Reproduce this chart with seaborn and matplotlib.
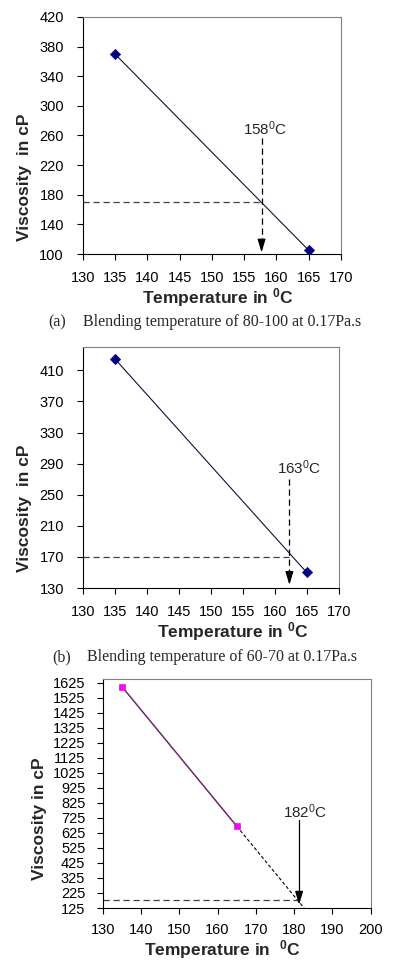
import numpy as np
import seaborn as sns
import matplotlib.pyplot as plt

# measured viscosity (cP) at two temperatures for each binder
temps = [135, 165]
visc_a = [370, 105]
visc_b = [425, 150]
visc_c = [1600, 670]

# read-off blending temperatures at the target viscosity
target_visc = [170, 170, 175]
blend_temp = [157.7, 162.3, 181.3]
blend_labels = ["158$^{0}$C", "163$^{0}$C", "182$^{0}$C"]

captions = [("(a)", "Blending temperature of 80-100 at 0.17Pa.s"),
            ("(b)", "Blending temperature of 60-70 at 0.17Pa.s")]

sns.set_style("ticks")
plt.rcParams['font.family'] = ['Liberation Sans', 'DejaVu Sans']
plt.rcParams['mathtext.default'] = 'regular'

W, H = 394, 966
fig = plt.figure(figsize=(W / 100, H / 100), dpi=100)


def make_ax(left, top, right, bottom):
    return fig.add_axes([left / W, 1 - bottom / H, (right - left) / W, (bottom - top) / H])


def style_ax(ax, fs, xpad, ypad):
    for s in ['top', 'right']:
        ax.spines[s].set_color('#808080')
        ax.spines[s].set_linewidth(0.8)
    for s in ['left', 'bottom']:
        ax.spines[s].set_color('black')
        ax.spines[s].set_linewidth(0.8)
    ax.tick_params(direction='out', length=4, width=0.8, labelsize=fs, colors='black')
    ax.tick_params(axis='x', pad=xpad)
    ax.tick_params(axis='y', pad=ypad)


def arrow_down(ax, x, top, tip, head, dashed=True):
    ax.plot([x, x], [top, tip + head], color='black', lw=0.9,
            ls=(0, (5, 3)) if dashed else '-')
    ax.annotate("", xy=(x, tip), xytext=(x, tip + head),
                arrowprops=dict(arrowstyle='-|>,head_length=1.0,head_width=0.3',
                                color='black', lw=0.9,
                                mutation_scale=8, shrinkA=0, shrinkB=0))


def labels(ax, xl, yl, xpos, ypos):
    ax.set_xlabel(xl, fontsize=12.5, fontweight='bold')
    ax.set_ylabel(yl, fontsize=12.5, fontweight='bold')
    ax.xaxis.set_label_coords(*xpos)
    ax.yaxis.set_label_coords(*ypos)


# ---- panel (a)
ax1 = make_ax(82.7, 17, 341, 254)
sns.lineplot(x=temps, y=visc_a, ax=ax1, color='#101040', lw=0.8)
sns.scatterplot(x=temps, y=visc_a, ax=ax1, marker='D', color='#000080', s=28,
                edgecolor='#000080', zorder=3)
ax1.set_xlim(130, 170)
ax1.set_ylim(100, 420)
ax1.set_xticks(np.arange(130, 171, 5))
ax1.set_yticks(np.arange(100, 421, 40))
ax1.plot([130, blend_temp[0]], [target_visc[0]] * 2, color='#404040', lw=0.9, ls=(0, (5, 3)))
arrow_down(ax1, blend_temp[0], 256, 102, 14)
ax1.text(158.2, 269, blend_labels[0], ha='center', va='center', fontsize=11)
labels(ax1, "Temperature in $^{0}$C", "Viscosity  in cP", (0.522, -0.136), (-0.196, 0.323))
style_ax(ax1, 10.5, 8.5, 9.5)

# ---- panel (b)
ax2 = make_ax(82.7, 347, 338.7, 588)
sns.lineplot(x=temps, y=visc_b, ax=ax2, color='#101040', lw=0.8)
sns.scatterplot(x=temps, y=visc_b, ax=ax2, marker='D', color='#000080', s=28,
                edgecolor='#000080', zorder=3)
ax2.set_xlim(130, 170)
ax2.set_ylim(130, 440)
ax2.set_xticks(np.arange(130, 171, 5))
ax2.set_yticks(np.arange(130, 411, 40))
ax2.plot([130, blend_temp[1]], [target_visc[1]] * 2, color='#404040', lw=0.9, ls=(0, (5, 3)))
arrow_down(ax2, blend_temp[1], 270, 134, 15)
ax2.text(163.8, 285, blend_labels[1], ha='center', va='center', fontsize=11)
labels(ax2, "Temperature in $^{0}$C", "Viscosity  in cP", (0.587, -0.134), (-0.198, 0.332))
style_ax(ax2, 10.5, 8.5, 9.5)

# ---- panel (c)
ax3 = make_ax(102.7, 679, 370.7, 908)
slope, icpt = np.polyfit(temps, visc_c, 1)
xe = np.array([temps[1], 183.6])
ax3.plot(xe, slope * xe + icpt, color='black', lw=0.8, ls=(0, (3, 2)))
sns.lineplot(x=temps, y=visc_c, ax=ax3, color='#6a2a6a', lw=1.1)
sns.scatterplot(x=temps, y=visc_c, ax=ax3, marker='s', color='#ff00ff', s=22,
                edgecolor='#c000c0', zorder=3)
ax3.set_xlim(130, 200)
ax3.set_ylim(125, 1650)
ax3.set_xticks(np.arange(130, 201, 10))
ax3.set_yticks(np.arange(125, 1626, 100))
ax3.plot([130, 180.7], [target_visc[2]] * 2, color='#404040', lw=0.9, ls=(0, (5, 3)))
arrow_down(ax3, blend_temp[2], 714, 147, 60, dashed=False)
ax3.text(182.8, 769, blend_labels[2], ha='center', va='center', fontsize=11)
labels(ax3, "Temperature in  $^{0}$C", "Viscosity in cP", (0.445, -0.133), (-0.208, 0.389))
style_ax(ax3, 10.5, 7, 8.5)

# ---- captions
for (tag, text), y, xs in zip(captions, [322, 657], [(48, 83), (52, 87)]):
    fig.text(xs[0] / W, 1 - y / H, tag, ha='left', va='center',
             fontsize=11.5, family='Liberation Serif')
    fig.text(xs[1] / W, 1 - y / H, text, ha='left', va='center',
             fontsize=11.5, family='Liberation Serif')

fig.savefig("out.png", dpi=100)
